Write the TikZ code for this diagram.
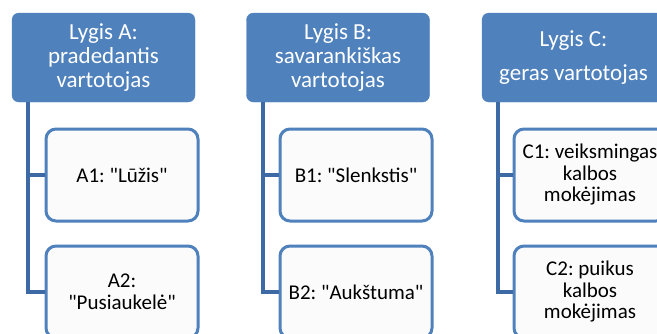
\documentclass[tikz,border=0pt]{standalone}
\usepackage{fontspec}
\setmainfont{Carlito}[Ligatures=TeXOff]
\usepackage{xcolor}
\usetikzlibrary{calc,positioning}
\definecolor{headblue}{HTML}{4F81BD}
\definecolor{linkblue}{HTML}{3D6AA5}
\definecolor{leaffill}{HTML}{FBFBFB}
\tikzset{
  head/.style={draw=headblue, fill=headblue, rounded corners=7pt, minimum width=183pt,
    minimum height=89pt, align=center, text=white,
    font=\fontsize{23}{24}\selectfont\frenchspacing, inner sep=0pt},
  leaf/.style={draw=headblue, fill=leaffill, line width=3pt, rounded corners=10pt,
    minimum width=152pt, minimum height=92pt, align=center,
    font=\fontsize{21}{21.5}\selectfont\frenchspacing, inner sep=0pt},
  conn/.style={draw=linkblue, line width=4pt}
}

\begin{document}
\begin{tikzpicture}[x=1pt,y=-1pt]
  \useasboundingbox (0,0) rectangle (657,333);
  \fill[white] (0,0) rectangle (657,333);

  % level heads
  \node[head] (hA) at (103.5,57.5) {Lygis A:\\pradedantis\\vartotojas};
  \node[head] (hB) at (338,57.5) {Lygis B:\\savarankiškas\\vartotojas};
  \node[head] (hC) at (573.5,57.5) {Lygis C:\\[10pt]geras vartotojas};

  % sub levels
  \node[leaf] (a1) at (122,175) {A1: "Lūžis"};
  \node[leaf] (a2) at (122,292) {A2:\\"Pusiaukelė"};
  \node[leaf] (b1) at (356,175) {B1: "Slenkstis"};
  \node[leaf] (b2) at (356,292) {B2: "Aukštuma"};
  \node[leaf] (c1) at (590,175) {C1: veiksmingas\\kalbos\\mokėjimas};
  \node[leaf] (c2) at (590,292) {C2: puikus\\kalbos\\mokėjimas};

  % connectors
  \coordinate (sA) at ($(hA.south west)+(16,0)$);
  \coordinate (sB) at ($(hB.south west)+(17,0)$);
  \coordinate (sC) at ($(hC.south west)+(16,0)$);
  \draw[conn] (sA) |- (a1.west);
  \draw[conn] (sA) |- (a2.west);
  \draw[conn] (sB) |- (b1.west);
  \draw[conn] (sB) |- (b2.west);
  \draw[conn] (sC) |- (c1.west);
  \draw[conn] (sC) |- (c2.west);
\end{tikzpicture}
\end{document}
